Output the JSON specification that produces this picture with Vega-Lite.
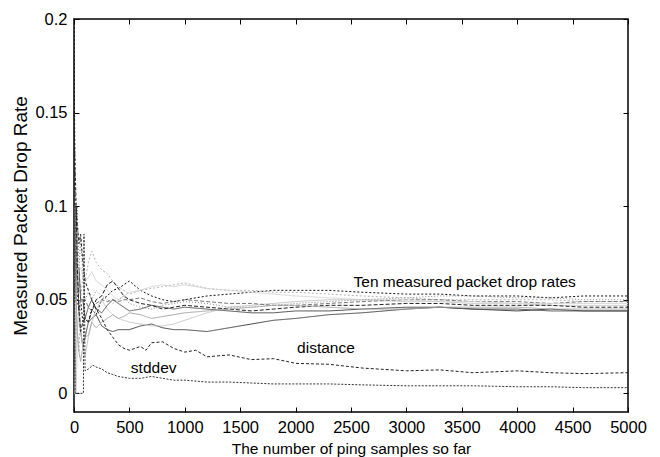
{
"$schema": "https://vega.github.io/schema/vega-lite/v6.json",
"width": 554, "height": 393,
"autosize": {"type": "none"},
"padding": {"left": 74, "top": 19, "right": 32, "bottom": 45},
"background": "white",
"config": {
  "view": {"stroke": "black", "strokeWidth": 1.5},
  "font": "Liberation Sans",
  "axis": {"grid": false, "domain": false, "ticks": true, "tickColor": "black", "tickSize": -5, "tickWidth": 1, "labelColor": "black", "titleColor": "black", "labelFont": "Liberation Sans", "titleFont": "Liberation Sans", "titleFontWeight": "normal", "labelFontSize": 16.5, "titleFontSize": 15.5, "labelOverlap": false, "labelBound": false, "labelFlush": false}
},
"layer": [
{
  "data": {"values": [
{"s":"r1","x":0,"y":0.2},{"s":"r1","x":10,"y":0.1},{"s":"r1","x":20,"y":0.067},{"s":"r1","x":30,"y":0.05},{"s":"r1","x":45,"y":0.044},{"s":"r1","x":60,"y":0.05},{"s":"r1","x":80,"y":0.038},{"s":"r1","x":100,"y":0.04},{"s":"r1","x":130,"y":0.038},{"s":"r1","x":160,"y":0.045},{"s":"r1","x":200,"y":0.042},{"s":"r1","x":250,"y":0.05},{"s":"r1","x":300,"y":0.052},{"s":"r1","x":350,"y":0.055},{"s":"r1","x":400,"y":0.056},{"s":"r1","x":450,"y":0.058},{"s":"r1","x":500,"y":0.06},{"s":"r1","x":600,"y":0.055},{"s":"r1","x":700,"y":0.052},{"s":"r1","x":800,"y":0.05},{"s":"r1","x":900,"y":0.049},{"s":"r1","x":1000,"y":0.05},{"s":"r1","x":1200,"y":0.052},{"s":"r1","x":1400,"y":0.053},{"s":"r1","x":1600,"y":0.054},{"s":"r1","x":1800,"y":0.055},{"s":"r1","x":2000,"y":0.055},{"s":"r1","x":2300,"y":0.055},{"s":"r1","x":2600,"y":0.054},{"s":"r1","x":3000,"y":0.053},{"s":"r1","x":3300,"y":0.053},{"s":"r1","x":3600,"y":0.052},{"s":"r1","x":4000,"y":0.052},{"s":"r1","x":4300,"y":0.051},{"s":"r1","x":4600,"y":0.052},{"s":"r1","x":5000,"y":0.052},
{"s":"r2","x":0,"y":0},{"s":"r2","x":10,"y":0.1},{"s":"r2","x":20,"y":0.05},{"s":"r2","x":30,"y":0.067},{"s":"r2","x":45,"y":0.044},{"s":"r2","x":60,"y":0.033},{"s":"r2","x":80,"y":0.025},{"s":"r2","x":100,"y":0.03},{"s":"r2","x":130,"y":0.038},{"s":"r2","x":160,"y":0.04},{"s":"r2","x":200,"y":0.042},{"s":"r2","x":250,"y":0.036},{"s":"r2","x":300,"y":0.034},{"s":"r2","x":350,"y":0.033},{"s":"r2","x":400,"y":0.034},{"s":"r2","x":450,"y":0.034},{"s":"r2","x":500,"y":0.034},{"s":"r2","x":600,"y":0.036},{"s":"r2","x":700,"y":0.037},{"s":"r2","x":800,"y":0.035},{"s":"r2","x":900,"y":0.034},{"s":"r2","x":1000,"y":0.034},{"s":"r2","x":1200,"y":0.033},{"s":"r2","x":1400,"y":0.035},{"s":"r2","x":1600,"y":0.037},{"s":"r2","x":1800,"y":0.039},{"s":"r2","x":2000,"y":0.04},{"s":"r2","x":2300,"y":0.042},{"s":"r2","x":2600,"y":0.043},{"s":"r2","x":3000,"y":0.045},{"s":"r2","x":3300,"y":0.046},{"s":"r2","x":3600,"y":0.045},{"s":"r2","x":4000,"y":0.044},{"s":"r2","x":4300,"y":0.045},{"s":"r2","x":4600,"y":0.044},{"s":"r2","x":5000,"y":0.044},
{"s":"r3","x":0,"y":0},{"s":"r3","x":10,"y":0},{"s":"r3","x":20,"y":0.05},{"s":"r3","x":30,"y":0.033},{"s":"r3","x":45,"y":0.022},{"s":"r3","x":60,"y":0.05},{"s":"r3","x":80,"y":0.063},{"s":"r3","x":100,"y":0.06},{"s":"r3","x":130,"y":0.07},{"s":"r3","x":160,"y":0.076},{"s":"r3","x":200,"y":0.07},{"s":"r3","x":250,"y":0.066},{"s":"r3","x":300,"y":0.064},{"s":"r3","x":350,"y":0.06},{"s":"r3","x":400,"y":0.057},{"s":"r3","x":450,"y":0.055},{"s":"r3","x":500,"y":0.053},{"s":"r3","x":600,"y":0.055},{"s":"r3","x":700,"y":0.056},{"s":"r3","x":800,"y":0.057},{"s":"r3","x":900,"y":0.058},{"s":"r3","x":1000,"y":0.059},{"s":"r3","x":1200,"y":0.056},{"s":"r3","x":1400,"y":0.055},{"s":"r3","x":1600,"y":0.055},{"s":"r3","x":1800,"y":0.054},{"s":"r3","x":2000,"y":0.054},{"s":"r3","x":2300,"y":0.053},{"s":"r3","x":2600,"y":0.052},{"s":"r3","x":3000,"y":0.051},{"s":"r3","x":3300,"y":0.05},{"s":"r3","x":3600,"y":0.05},{"s":"r3","x":4000,"y":0.05},{"s":"r3","x":4300,"y":0.05},{"s":"r3","x":4600,"y":0.049},{"s":"r3","x":5000,"y":0.049},
{"s":"r4","x":0,"y":0},{"s":"r4","x":10,"y":0},{"s":"r4","x":20,"y":0},{"s":"r4","x":30,"y":0.033},{"s":"r4","x":45,"y":0.044},{"s":"r4","x":60,"y":0.033},{"s":"r4","x":80,"y":0.025},{"s":"r4","x":100,"y":0.02},{"s":"r4","x":130,"y":0.03},{"s":"r4","x":160,"y":0.038},{"s":"r4","x":200,"y":0.045},{"s":"r4","x":250,"y":0.05},{"s":"r4","x":300,"y":0.045},{"s":"r4","x":350,"y":0.042},{"s":"r4","x":400,"y":0.04},{"s":"r4","x":450,"y":0.039},{"s":"r4","x":500,"y":0.038},{"s":"r4","x":600,"y":0.037},{"s":"r4","x":700,"y":0.036},{"s":"r4","x":800,"y":0.036},{"s":"r4","x":900,"y":0.037},{"s":"r4","x":1000,"y":0.039},{"s":"r4","x":1200,"y":0.043},{"s":"r4","x":1400,"y":0.046},{"s":"r4","x":1600,"y":0.047},{"s":"r4","x":1800,"y":0.048},{"s":"r4","x":2000,"y":0.049},{"s":"r4","x":2300,"y":0.05},{"s":"r4","x":2600,"y":0.05},{"s":"r4","x":3000,"y":0.049},{"s":"r4","x":3300,"y":0.049},{"s":"r4","x":3600,"y":0.048},{"s":"r4","x":4000,"y":0.048},{"s":"r4","x":4300,"y":0.047},{"s":"r4","x":4600,"y":0.047},{"s":"r4","x":5000,"y":0.047},
{"s":"r5","x":0,"y":0.1},{"s":"r5","x":10,"y":0.1},{"s":"r5","x":20,"y":0.05},{"s":"r5","x":30,"y":0.067},{"s":"r5","x":45,"y":0.067},{"s":"r5","x":60,"y":0.05},{"s":"r5","x":80,"y":0.05},{"s":"r5","x":100,"y":0.05},{"s":"r5","x":130,"y":0.046},{"s":"r5","x":160,"y":0.044},{"s":"r5","x":200,"y":0.048},{"s":"r5","x":250,"y":0.05},{"s":"r5","x":300,"y":0.049},{"s":"r5","x":350,"y":0.05},{"s":"r5","x":400,"y":0.049},{"s":"r5","x":450,"y":0.05},{"s":"r5","x":500,"y":0.05},{"s":"r5","x":600,"y":0.051},{"s":"r5","x":700,"y":0.049},{"s":"r5","x":800,"y":0.048},{"s":"r5","x":900,"y":0.049},{"s":"r5","x":1000,"y":0.05},{"s":"r5","x":1200,"y":0.049},{"s":"r5","x":1400,"y":0.048},{"s":"r5","x":1600,"y":0.048},{"s":"r5","x":1800,"y":0.047},{"s":"r5","x":2000,"y":0.047},{"s":"r5","x":2300,"y":0.048},{"s":"r5","x":2600,"y":0.049},{"s":"r5","x":3000,"y":0.05},{"s":"r5","x":3300,"y":0.05},{"s":"r5","x":3600,"y":0.049},{"s":"r5","x":4000,"y":0.049},{"s":"r5","x":4300,"y":0.048},{"s":"r5","x":4600,"y":0.049},{"s":"r5","x":5000,"y":0.049},
{"s":"r6","x":0,"y":0},{"s":"r6","x":10,"y":0.1},{"s":"r6","x":20,"y":0.1},{"s":"r6","x":30,"y":0.067},{"s":"r6","x":45,"y":0.067},{"s":"r6","x":60,"y":0.05},{"s":"r6","x":80,"y":0.05},{"s":"r6","x":100,"y":0.04},{"s":"r6","x":130,"y":0.046},{"s":"r6","x":160,"y":0.05},{"s":"r6","x":200,"y":0.045},{"s":"r6","x":250,"y":0.043},{"s":"r6","x":300,"y":0.047},{"s":"r6","x":350,"y":0.05},{"s":"r6","x":400,"y":0.048},{"s":"r6","x":450,"y":0.046},{"s":"r6","x":500,"y":0.044},{"s":"r6","x":600,"y":0.045},{"s":"r6","x":700,"y":0.047},{"s":"r6","x":800,"y":0.046},{"s":"r6","x":900,"y":0.045},{"s":"r6","x":1000,"y":0.046},{"s":"r6","x":1200,"y":0.045},{"s":"r6","x":1400,"y":0.044},{"s":"r6","x":1600,"y":0.043},{"s":"r6","x":1800,"y":0.043},{"s":"r6","x":2000,"y":0.044},{"s":"r6","x":2300,"y":0.044},{"s":"r6","x":2600,"y":0.045},{"s":"r6","x":3000,"y":0.046},{"s":"r6","x":3300,"y":0.046},{"s":"r6","x":3600,"y":0.045},{"s":"r6","x":4000,"y":0.045},{"s":"r6","x":4300,"y":0.044},{"s":"r6","x":4600,"y":0.044},{"s":"r6","x":5000,"y":0.044},
{"s":"r7","x":0,"y":0},{"s":"r7","x":10,"y":0},{"s":"r7","x":20,"y":0.05},{"s":"r7","x":30,"y":0.067},{"s":"r7","x":45,"y":0.067},{"s":"r7","x":60,"y":0.067},{"s":"r7","x":80,"y":0.063},{"s":"r7","x":100,"y":0.06},{"s":"r7","x":130,"y":0.062},{"s":"r7","x":160,"y":0.065},{"s":"r7","x":200,"y":0.06},{"s":"r7","x":250,"y":0.058},{"s":"r7","x":300,"y":0.055},{"s":"r7","x":350,"y":0.052},{"s":"r7","x":400,"y":0.05},{"s":"r7","x":450,"y":0.052},{"s":"r7","x":500,"y":0.054},{"s":"r7","x":600,"y":0.055},{"s":"r7","x":700,"y":0.057},{"s":"r7","x":800,"y":0.058},{"s":"r7","x":900,"y":0.057},{"s":"r7","x":1000,"y":0.058},{"s":"r7","x":1200,"y":0.056},{"s":"r7","x":1400,"y":0.055},{"s":"r7","x":1600,"y":0.054},{"s":"r7","x":1800,"y":0.053},{"s":"r7","x":2000,"y":0.052},{"s":"r7","x":2300,"y":0.051},{"s":"r7","x":2600,"y":0.05},{"s":"r7","x":3000,"y":0.05},{"s":"r7","x":3300,"y":0.049},{"s":"r7","x":3600,"y":0.049},{"s":"r7","x":4000,"y":0.048},{"s":"r7","x":4300,"y":0.048},{"s":"r7","x":4600,"y":0.048},{"s":"r7","x":5000,"y":0.048},
{"s":"r8","x":0,"y":0},{"s":"r8","x":10,"y":0.1},{"s":"r8","x":20,"y":0.05},{"s":"r8","x":30,"y":0.1},{"s":"r8","x":45,"y":0.067},{"s":"r8","x":60,"y":0.083},{"s":"r8","x":80,"y":0.063},{"s":"r8","x":100,"y":0.05},{"s":"r8","x":130,"y":0.054},{"s":"r8","x":160,"y":0.05},{"s":"r8","x":200,"y":0.055},{"s":"r8","x":250,"y":0.052},{"s":"r8","x":300,"y":0.05},{"s":"r8","x":350,"y":0.048},{"s":"r8","x":400,"y":0.05},{"s":"r8","x":450,"y":0.052},{"s":"r8","x":500,"y":0.048},{"s":"r8","x":600,"y":0.046},{"s":"r8","x":700,"y":0.045},{"s":"r8","x":800,"y":0.047},{"s":"r8","x":900,"y":0.048},{"s":"r8","x":1000,"y":0.049},{"s":"r8","x":1200,"y":0.048},{"s":"r8","x":1400,"y":0.046},{"s":"r8","x":1600,"y":0.046},{"s":"r8","x":1800,"y":0.047},{"s":"r8","x":2000,"y":0.048},{"s":"r8","x":2300,"y":0.049},{"s":"r8","x":2600,"y":0.05},{"s":"r8","x":3000,"y":0.051},{"s":"r8","x":3300,"y":0.052},{"s":"r8","x":3600,"y":0.052},{"s":"r8","x":4000,"y":0.051},{"s":"r8","x":4300,"y":0.051},{"s":"r8","x":4600,"y":0.05},{"s":"r8","x":5000,"y":0.05},
{"s":"r9","x":0,"y":0.1},{"s":"r9","x":10,"y":0.1},{"s":"r9","x":20,"y":0.1},{"s":"r9","x":30,"y":0.067},{"s":"r9","x":45,"y":0.044},{"s":"r9","x":60,"y":0.033},{"s":"r9","x":80,"y":0.038},{"s":"r9","x":100,"y":0.04},{"s":"r9","x":130,"y":0.038},{"s":"r9","x":160,"y":0.044},{"s":"r9","x":200,"y":0.05},{"s":"r9","x":250,"y":0.052},{"s":"r9","x":300,"y":0.058},{"s":"r9","x":350,"y":0.06},{"s":"r9","x":400,"y":0.056},{"s":"r9","x":450,"y":0.052},{"s":"r9","x":500,"y":0.05},{"s":"r9","x":600,"y":0.048},{"s":"r9","x":700,"y":0.047},{"s":"r9","x":800,"y":0.045},{"s":"r9","x":900,"y":0.046},{"s":"r9","x":1000,"y":0.047},{"s":"r9","x":1200,"y":0.046},{"s":"r9","x":1400,"y":0.045},{"s":"r9","x":1600,"y":0.044},{"s":"r9","x":1800,"y":0.045},{"s":"r9","x":2000,"y":0.046},{"s":"r9","x":2300,"y":0.047},{"s":"r9","x":2600,"y":0.047},{"s":"r9","x":3000,"y":0.048},{"s":"r9","x":3300,"y":0.048},{"s":"r9","x":3600,"y":0.047},{"s":"r9","x":4000,"y":0.047},{"s":"r9","x":4300,"y":0.047},{"s":"r9","x":4600,"y":0.046},{"s":"r9","x":5000,"y":0.046},
{"s":"r10","x":0,"y":0},{"s":"r10","x":10,"y":0},{"s":"r10","x":20,"y":0.05},{"s":"r10","x":30,"y":0.033},{"s":"r10","x":45,"y":0.022},{"s":"r10","x":60,"y":0.017},{"s":"r10","x":80,"y":0.025},{"s":"r10","x":100,"y":0.03},{"s":"r10","x":130,"y":0.031},{"s":"r10","x":160,"y":0.038},{"s":"r10","x":200,"y":0.035},{"s":"r10","x":250,"y":0.038},{"s":"r10","x":300,"y":0.04},{"s":"r10","x":350,"y":0.042},{"s":"r10","x":400,"y":0.04},{"s":"r10","x":450,"y":0.041},{"s":"r10","x":500,"y":0.043},{"s":"r10","x":600,"y":0.042},{"s":"r10","x":700,"y":0.04},{"s":"r10","x":800,"y":0.041},{"s":"r10","x":900,"y":0.042},{"s":"r10","x":1000,"y":0.043},{"s":"r10","x":1200,"y":0.044},{"s":"r10","x":1400,"y":0.045},{"s":"r10","x":1600,"y":0.046},{"s":"r10","x":1800,"y":0.047},{"s":"r10","x":2000,"y":0.047},{"s":"r10","x":2300,"y":0.046},{"s":"r10","x":2600,"y":0.045},{"s":"r10","x":3000,"y":0.045},{"s":"r10","x":3300,"y":0.046},{"s":"r10","x":3600,"y":0.046},{"s":"r10","x":4000,"y":0.046},{"s":"r10","x":4300,"y":0.045},{"s":"r10","x":4600,"y":0.045},{"s":"r10","x":5000,"y":0.045},
{"s":"distance","x":0,"y":0.15},{"s":"distance","x":10,"y":0.12},{"s":"distance","x":20,"y":0.1},{"s":"distance","x":30,"y":0.09},{"s":"distance","x":45,"y":0.08},{"s":"distance","x":60,"y":0.085},{"s":"distance","x":80,"y":0.07},{"s":"distance","x":100,"y":0.06},{"s":"distance","x":130,"y":0.055},{"s":"distance","x":160,"y":0.05},{"s":"distance","x":200,"y":0.045},{"s":"distance","x":250,"y":0.04},{"s":"distance","x":300,"y":0.034},{"s":"distance","x":350,"y":0.03},{"s":"distance","x":400,"y":0.026},{"s":"distance","x":450,"y":0.024},{"s":"distance","x":500,"y":0.023},{"s":"distance","x":600,"y":0.025},{"s":"distance","x":650,"y":0.023},{"s":"distance","x":700,"y":0.027},{"s":"distance","x":800,"y":0.0275},{"s":"distance","x":900,"y":0.024},{"s":"distance","x":1000,"y":0.022},{"s":"distance","x":1100,"y":0.023},{"s":"distance","x":1200,"y":0.0195},{"s":"distance","x":1400,"y":0.0205},{"s":"distance","x":1600,"y":0.018},{"s":"distance","x":1800,"y":0.0185},{"s":"distance","x":2000,"y":0.016},{"s":"distance","x":2300,"y":0.0155},{"s":"distance","x":2600,"y":0.0135},{"s":"distance","x":3000,"y":0.012},{"s":"distance","x":3300,"y":0.0125},{"s":"distance","x":3600,"y":0.011},{"s":"distance","x":4000,"y":0.012},{"s":"distance","x":4300,"y":0.011},{"s":"distance","x":4600,"y":0.0105},{"s":"distance","x":5000,"y":0.011},
{"s":"stddev","x":0,"y":0.1},{"s":"stddev","x":10,"y":0},{"s":"stddev","x":85,"y":0},{"s":"stddev","x":90,"y":0.085},{"s":"stddev","x":100,"y":0.012},{"s":"stddev","x":130,"y":0.013},{"s":"stddev","x":170,"y":0.015},{"s":"stddev","x":200,"y":0.014},{"s":"stddev","x":250,"y":0.013},{"s":"stddev","x":300,"y":0.011},{"s":"stddev","x":350,"y":0.01},{"s":"stddev","x":400,"y":0.009},{"s":"stddev","x":500,"y":0.008},{"s":"stddev","x":600,"y":0.008},{"s":"stddev","x":700,"y":0.009},{"s":"stddev","x":800,"y":0.008},{"s":"stddev","x":900,"y":0.007},{"s":"stddev","x":1000,"y":0.007},{"s":"stddev","x":1200,"y":0.006},{"s":"stddev","x":1400,"y":0.006},{"s":"stddev","x":1600,"y":0.0055},{"s":"stddev","x":1800,"y":0.005},{"s":"stddev","x":2000,"y":0.005},{"s":"stddev","x":2300,"y":0.005},{"s":"stddev","x":2600,"y":0.0045},{"s":"stddev","x":3000,"y":0.004},{"s":"stddev","x":3300,"y":0.004},{"s":"stddev","x":3600,"y":0.004},{"s":"stddev","x":4000,"y":0.0035},{"s":"stddev","x":4300,"y":0.0035},{"s":"stddev","x":4600,"y":0.003},{"s":"stddev","x":5000,"y":0.003}
  ]},
  "mark": {"type": "line", "strokeWidth": 1, "clip": true},
  "encoding": {
    "x": {"field": "x", "type": "quantitative", "scale": {"domain": [0, 5000], "nice": false, "zero": false},
          "axis": {"orient": "bottom", "values": [0,500,1000,1500,2000,2500,3000,3500,4000,4500,5000], "format": "d", "labelPadding": 12, "title": "The number of ping samples so far", "titlePadding": 6}},
    "y": {"field": "y", "type": "quantitative", "scale": {"domain": [-0.01, 0.2], "nice": false, "zero": false},
          "axis": {"orient": "left", "values": [0, 0.05, 0.1, 0.15, 0.2], "format": "~g", "labelPadding": 12, "title": "Measured Packet Drop Rate", "titleFontSize": 19, "titlePadding": 4}},
    "color": {"field": "s", "type": "nominal", "legend": null,
      "scale": {"domain": ["r1","r2","r3","r4","r5","r6","r7","r8","r9","r10","distance","stddev"],
                "range": ["#111111","#444444","#b5b5b5","#c8c8c8","#777777","#555555","#d5d5d5","#888888","#222222","#a8a8a8","#222222","#333333"]}},
    "strokeDash": {"field": "s", "type": "nominal", "legend": null,
      "scale": {"domain": ["r1","r2","r3","r4","r5","r6","r7","r8","r9","r10","distance","stddev"],
                "range": [[2,2],[1,0],[2,2],[1,0],[4,2],[1,0],[1,0],[1,2],[4,2],[1,0],[3,2],[2,1.5]]}}
  }
},
{
  "data": {"values": [
    {"x": 3526, "y": 0.0597, "t": "Ten measured packet drop rates"},
    {"x": 2274, "y": 0.024, "t": "distance"},
    {"x": 719, "y": 0.0133, "t": "stddev"}
  ]},
  "mark": {"type": "text", "fontSize": 15.5, "font": "Liberation Sans", "color": "black", "align": "center", "baseline": "middle"},
  "encoding": {
    "x": {"field": "x", "type": "quantitative", "scale": {"domain": [0, 5000], "nice": false, "zero": false},
          "axis": {"orient": "top", "values": [0,500,1000,1500,2000,2500,3000,3500,4000,4500,5000], "labels": false, "title": null}},
    "y": {"field": "y", "type": "quantitative", "scale": {"domain": [-0.01, 0.2], "nice": false, "zero": false},
          "axis": {"orient": "right", "values": [0, 0.05, 0.1, 0.15, 0.2], "labels": false, "title": null}},
    "text": {"field": "t"}
  }
}
],
"resolve": {"axis": {"x": "independent", "y": "independent"}}
}
